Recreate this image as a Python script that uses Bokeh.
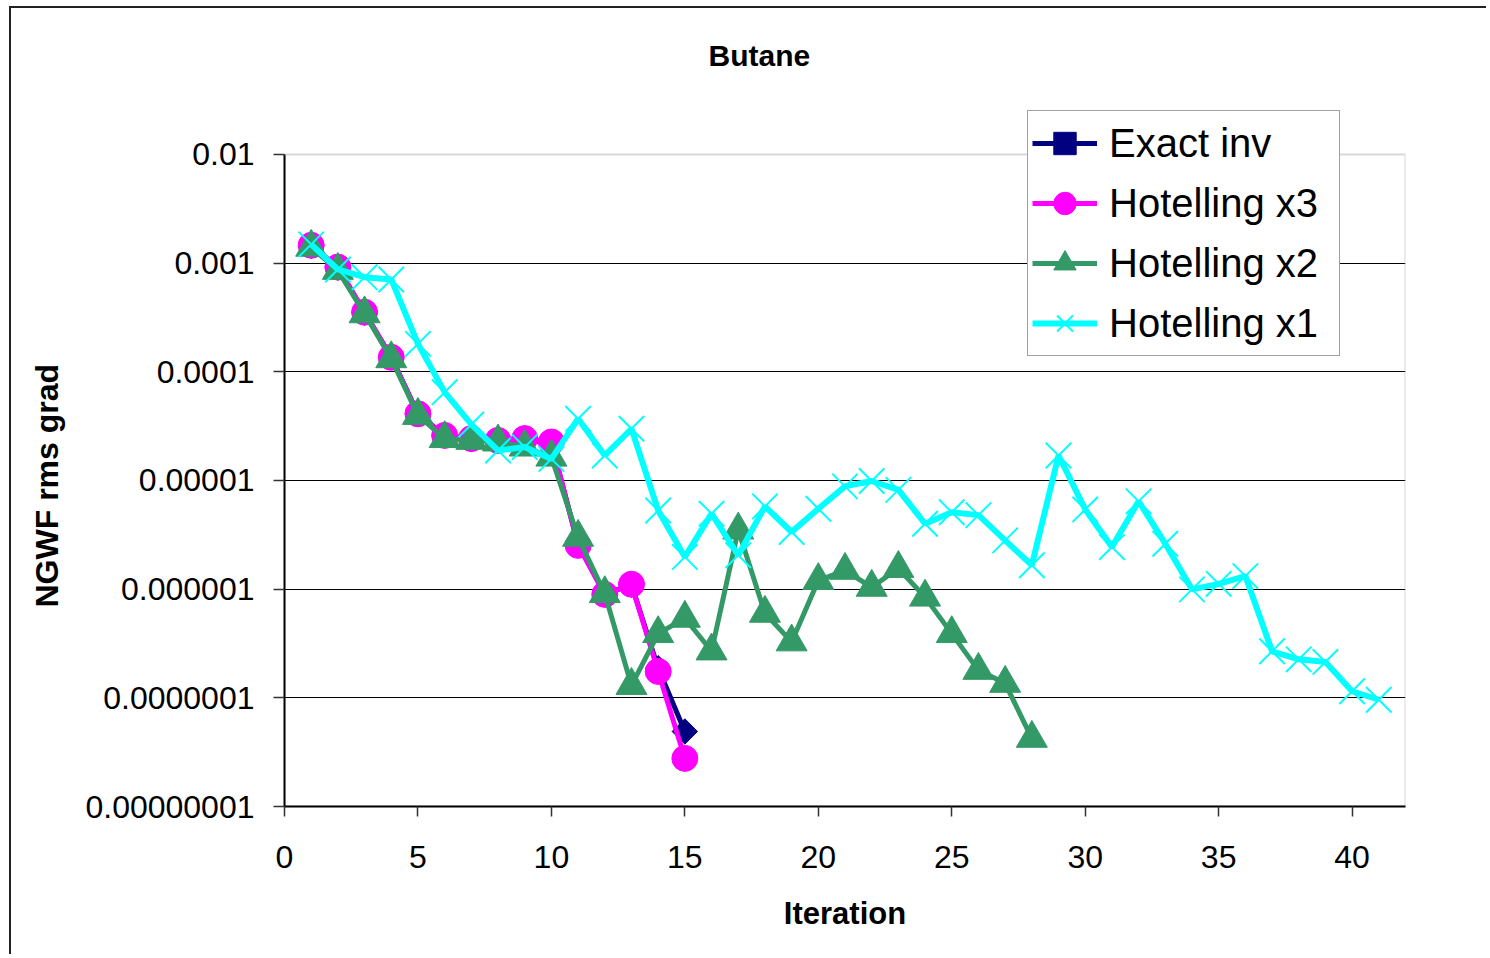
from bokeh.plotting import figure
from bokeh.models import (Range1d, FixedTicker, CustomJSTickFormatter, Legend,
                          LegendItem, Title, BoxAnnotation)
from bokeh.embed import file_html
from bokeh.resources import INLINE

# ---------------- data ----------------
iter_exact = list(range(1, 16))
exact_inv = [1.45e-3, 9.1e-4, 3.5e-4, 1.37e-4, 4.1e-5, 2.6e-5, 2.42e-5, 2.33e-5,
             2.4e-5, 2.2e-5, 2.6e-6, 9.0e-7, 1.1e-6, 1.87e-7, 4.9e-8]

iter_x3 = list(range(1, 16))
hotelling_x3 = [1.46e-3, 9.2e-4, 3.54e-4, 1.36e-4, 4.11e-5, 2.6e-5, 2.43e-5, 2.34e-5,
                2.43e-5, 2.26e-5, 2.53e-6, 8.95e-7, 1.11e-6, 1.75e-7, 2.77e-8]

iter_x2 = list(range(1, 29))
hotelling_x2 = [1.4e-3, 8.58e-4, 3.42e-4, 1.32e-4, 3.97e-5, 2.43e-5, 2.34e-5, 2.26e-5,
                2.03e-5, 1.64e-5, 3.0e-6, 9.1e-7, 1.3e-7, 3.9e-7, 5.4e-7, 2.7e-7,
                3.5e-6, 6.0e-7, 3.27e-7, 1.2e-6, 1.49e-6, 1.04e-6, 1.55e-6, 8.45e-7,
                3.9e-7, 1.79e-7, 1.36e-7, 4.24e-8]

iter_x1 = list(range(1, 42))
hotelling_x1 = [1.49e-3, 8.75e-4, 7.43e-4, 7.08e-4, 1.81e-4, 6.5e-5, 3.28e-5, 1.89e-5,
                2.03e-5, 1.58e-5, 3.7e-5, 1.7e-5, 2.99e-5, 5.3e-6, 1.98e-6, 4.95e-6,
                2.05e-6, 5.78e-6, 3.36e-6, 5.5e-6, 8.83e-6, 9.9e-6, 8.2e-6, 4.0e-6,
                5.1e-6, 4.8e-6, 2.81e-6, 1.66e-6, 1.7e-5, 5.42e-6, 2.44e-6, 6.43e-6,
                2.62e-6, 9.96e-7, 1.12e-6, 1.32e-6, 2.68e-7, 2.26e-7, 2.14e-7, 1.15e-7,
                9.6e-8]

x_ticks = [0, 5, 10, 15, 20, 25, 30, 35, 40]
y_ticks = [1e-8, 1e-7, 1e-6, 1e-5, 1e-4, 1e-3, 1e-2]

title_text = "Butane"
x_label = "Iteration"
y_label = "NGWF rms grad"
series_names = ["Exact inv", "Hotelling x3", "Hotelling x2", "Hotelling x1"]

# ---------------- figure ----------------
FONT = "'Liberation Sans', Arial, sans-serif"
X_MAX = 42
Y_MIN, Y_AXIS_TOP = 1e-8, 1e-2
Y_RANGE_TOP = 10 ** -1.5583   # extra head-room above the axis for the legend

p = figure(width=1486, height=954, y_axis_type="log",
           x_range=Range1d(0, X_MAX), y_range=Range1d(Y_MIN, Y_RANGE_TOP),
           output_backend="svg", toolbar_location=None,
           min_border_left=284, min_border_right=81,
           min_border_top=106, min_border_bottom=148,
           background_fill_color="white", border_fill_color="white",
           border_fill_alpha=0)

# outer chart-area border (left and top edges)
p.styles = {"background-color": "white",
            "box-shadow": "inset 9px 6px 0 0 white, inset 11px 8px 0 0 #222"}

p.outline_line_color = None

# plot-area border (grey) drawn beneath everything
frame_box = BoxAnnotation(left=0, right=X_MAX, bottom=Y_MIN, top=Y_AXIS_TOP,
                          fill_alpha=0, line_color="#808080", line_width=2,
                          level="underlay")
p.add_layout(frame_box)

# title
p.title.text = title_text
p.title.text_font = FONT
p.title.text_font_size = "30px"
p.title.text_font_style = "bold"
p.title.text_color = "black"
p.title.align = "left"
p.title.offset = 424
p.title.standoff = 70

# axes
p.xaxis.ticker = FixedTicker(ticks=x_ticks, minor_ticks=[])
p.yaxis.ticker = FixedTicker(ticks=y_ticks, minor_ticks=[])
p.yaxis.bounds = (Y_MIN, Y_AXIS_TOP)
p.yaxis.formatter = CustomJSTickFormatter(
    code="return tick.toFixed(Math.round(-Math.log10(tick)));")

for ax in (p.xaxis, p.yaxis):
    ax.axis_line_color = "black"
    ax.axis_line_width = 2
    ax.major_tick_line_color = "#333333"
    ax.major_tick_line_width = 1.5
    ax.major_tick_in = 0
    ax.minor_tick_line_color = None
    ax.major_label_text_font = FONT
    ax.major_label_text_font_size = "32px"
    ax.major_label_text_color = "black"
    ax.axis_label_text_font = FONT
    ax.axis_label_text_font_size = "31px"
    ax.axis_label_text_font_style = "bold"
    ax.axis_label_text_color = "black"

p.xaxis.major_tick_out = 10
p.yaxis.major_tick_out = 11
p.xaxis.major_label_standoff = 29
p.yaxis.major_label_standoff = 19
p.xaxis.axis_label = x_label
p.xaxis.axis_label_standoff = 25

# y-axis title (rotated), placed to the left of the tick labels
ytitle = Title(text=y_label, align="left", offset=199, vertical_align="middle",
               standoff=33, text_font=FONT, text_font_size="32px",
               text_font_style="bold", text_color="black")
p.add_layout(ytitle, "left")

# grid
p.xgrid.grid_line_color = None
p.ygrid.ticker = FixedTicker(ticks=y_ticks[1:-1], minor_ticks=[])
p.ygrid.grid_line_color = "black"
p.ygrid.grid_line_width = 1

# ---------------- series ----------------
items = []

l0 = p.line(iter_exact, exact_inv, line_color="#000080", line_width=5)
m0 = p.scatter(iter_exact, exact_inv, marker="square", angle=0.785398, size=18,
               fill_color="#000080", line_color="#000080")
items.append(LegendItem(label=series_names[0], renderers=[l0, m0]))

l1 = p.line(iter_x3, hotelling_x3, line_color="#FF00FF", line_width=5)
m1 = p.scatter(iter_x3, hotelling_x3, marker="circle", size=26,
               fill_color="#FF00FF", line_color="#FF00FF")
items.append(LegendItem(label=series_names[1], renderers=[l1, m1]))

l2 = p.line(iter_x2, hotelling_x2, line_color="#339966", line_width=5)
m2 = p.scatter(iter_x2, hotelling_x2, marker="triangle", size=31,
               fill_color="#339966", line_color="#339966")
items.append(LegendItem(label=series_names[2], renderers=[l2, m2]))

l3 = p.line(iter_x1, hotelling_x1, line_color="#00FFFF", line_width=6)
m3 = p.scatter(iter_x1, hotelling_x1, marker="x", size=36,
               line_color="#00FFFF", line_width=2)
items.append(LegendItem(label=series_names[3], renderers=[l3, m3]))

legend = Legend(items=items, location=(743, 450),
                label_text_font=FONT, label_text_font_size="40px",
                label_text_color="black",
                glyph_width=65, glyph_height=56, label_height=56, label_width=226,
                label_standoff=12, spacing=4, padding=4, margin=0,
                border_line_color="#444444", border_line_width=1.5,
                background_fill_color="white", background_fill_alpha=1.0)
p.add_layout(legend, "center")

open("out.html", "w").write(file_html(p, INLINE))
